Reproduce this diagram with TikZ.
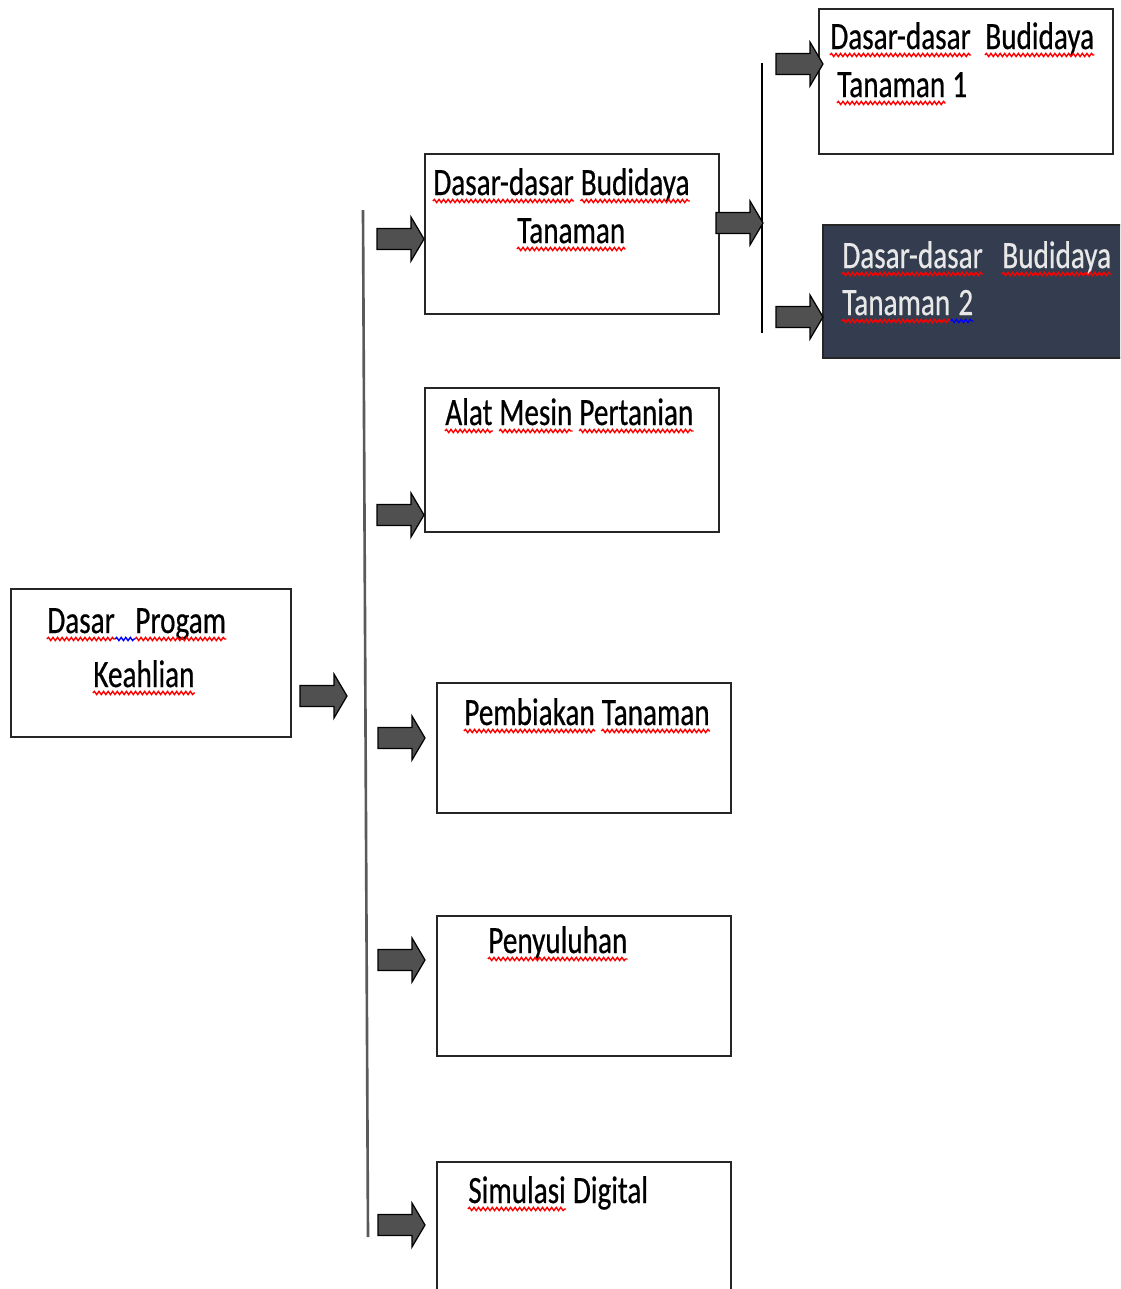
\documentclass[tikz,border=0pt]{standalone}
\usepackage{fontspec}
\newfontfamily\diafont[FakeStretch=0.755,FakeBold=0.5]{Carlito}
\usepackage{tikz}
\usepackage{xcolor}
\usetikzlibrary{decorations.pathmorphing}

\definecolor{arrowgray}{HTML}{505050}
\definecolor{darkbox}{HTML}{343D4F}
\definecolor{trunkgray}{HTML}{5A5A5A}
\definecolor{lighttext}{HTML}{E8E8E8}

% block arrow, tip at #1
\newcommand{\blockarrow}[1]{%
  \draw[blockarr] #1 -- ++(-13,-22) -- ++(0,11.5) -- ++(-34,0) -- ++(0,21)
    -- ++(34,0) -- ++(0,11.5) -- cycle;}

\begin{document}
\begin{tikzpicture}[x=0.02cm,y=-0.02cm,
    box/.style={draw=black!85,line width=1.1pt,anchor=north west,inner sep=0pt},
    word/.style={inner sep=0pt,anchor=base west,font=\diafont\fontsize{22}{26}\selectfont},
    blockarr/.style={fill=arrowgray,draw=black,line width=0.7pt,line join=miter},
    redwave/.style={draw=red,line width=0.8pt,decorate,
      decoration={snake,segment length=2.6pt,amplitude=0.9pt}},
    bluewave/.style={redwave,draw=blue}]
        \clip (0,0) rectangle (1120,1289);

        % boxes
        \node[box,minimum width=5.6cm,minimum height=2.96cm] (dpk) at (10,588) {};
        \node[box,minimum width=5.88cm,minimum height=3.2cm] (dbt) at (424,153) {};
        \node[box,minimum width=5.88cm,minimum height=2.88cm] (amp) at (424,387) {};
        \node[box,minimum width=5.88cm,minimum height=2.6cm] (pbt) at (436,682) {};
        \node[box,minimum width=5.88cm,minimum height=2.8cm] (pyl) at (436,915) {};
        \node[box,minimum width=5.88cm,minimum height=3.4cm] (smd) at (436,1161) {};
        \node[box,minimum width=5.88cm,minimum height=2.9cm] (dbt1) at (818,8) {};
        \node[box,fill=darkbox,minimum width=6.4cm,minimum height=2.66cm] (dbt2) at (822,224) {};

        % lines
        \draw[trunkgray,line width=1.5pt] (363,210) -- (368,1237);
        \draw[line width=1.1pt] (762,63) -- (762,333);

        % arrows
        \blockarrow{(347,696)}
        \blockarrow{(dbt.west |- 0,239)}
        \blockarrow{(amp.west |- 0,515)}
        \blockarrow{(425,738)}
        \blockarrow{(425,960)}
        \blockarrow{(425,1225)}
        \blockarrow{(763,223)}
        \blockarrow{(823,64)}
        \blockarrow{(823,317)}

        % texts
        \node[word] (dpk1) at (47,633) {Dasar};
        \node[word] (dpk2) at (135,633) {Progam};
        \node[word] (dpk3) at (93,687) {Keahlian};

        \node[word] (dbta) at (433,195) {Dasar-dasar};
        \node[word] (dbtb) at ([xshift=3.6pt]dbta.base east) {Budidaya};
        \node[word] (dbtc) at (517,243) {Tanaman};

        \node[word] (ampa) at (445,425) {Alat};
        \node[word] (ampb) at ([xshift=3.6pt]ampa.base east) {Mesin};
        \node[word] (ampc) at ([xshift=3.6pt]ampb.base east) {Pertanian};

        \node[word] (pbta) at (464,725) {Pembiakan};
        \node[word] (pbtb) at ([xshift=3.6pt]pbta.base east) {Tanaman};

        \node[word] (pyla) at (488,953) {Penyuluhan};

        \node[word] (smda) at (468,1203) {Simulasi};
        \node[word] (smdb) at ([xshift=3.6pt]smda.base east) {Digital};

        \node[word] (dbt1a) at (830,49) {Dasar-dasar};
        \node[word] (dbt1b) at (985,49) {Budidaya};
        \node[word] (dbt1c) at (837,97) {Tanaman};
        \node[word] (dbt1d) at (952,97) {1};

        \node[word,lighttext] (dbt2a) at (842,268) {Dasar-dasar};
        \node[word,lighttext] (dbt2b) at (1002,268) {Budidaya};
        \node[word,lighttext] (dbt2c) at (842,315) {Tanaman};
        \node[word,lighttext] (dbt2d) at (958,315) {2};

        % spelling marks
        \foreach \w in {dpk1,dpk2,dpk3,dbta,dbtb,dbtc,ampa,ampb,ampc,pbta,pbtb,pyla,smda,
                        dbt1a,dbt1b,dbt1c,dbt2a,dbt2b,dbt2c}
          \draw[redwave] ([yshift=-3.4pt]\w.base west) -- ([yshift=-3.4pt]\w.base east);
        \draw[bluewave] ([yshift=-3.4pt]dpk1.base east) -- ([yshift=-3.4pt]dpk2.base west);
        \draw[bluewave] ([yshift=-3.4pt]dbt2c.base east) -- ([yshift=-3.4pt]dbt2d.base east);
    \end{tikzpicture}
\end{document}
